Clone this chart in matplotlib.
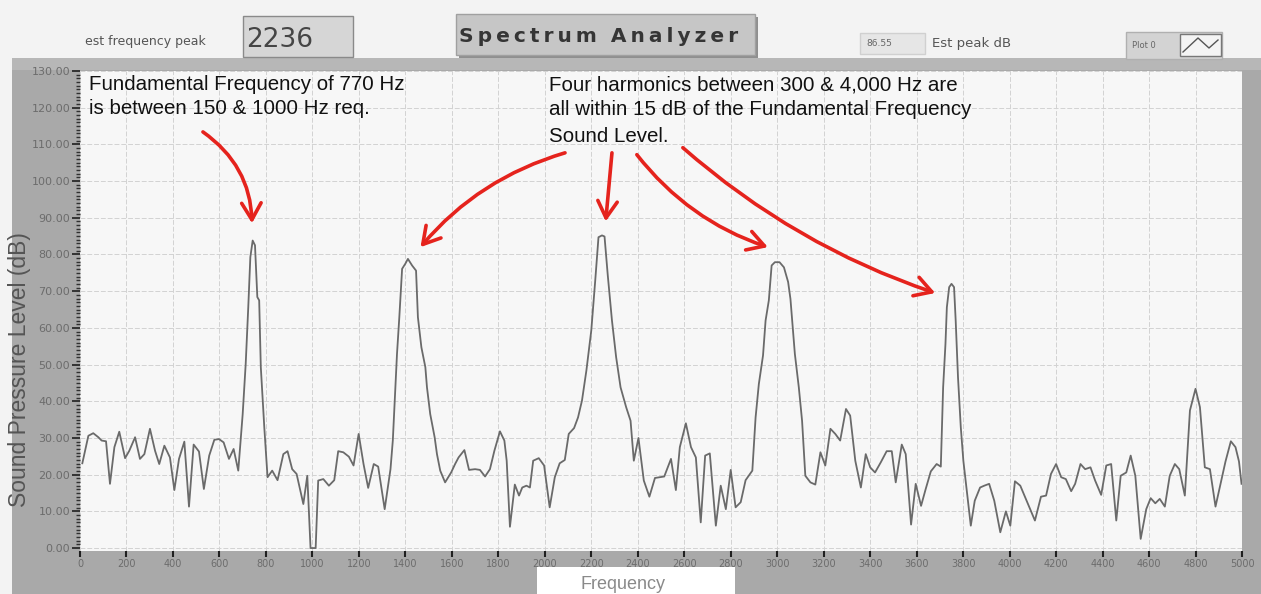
import matplotlib
matplotlib.use("Agg")
import matplotlib.pyplot as plt
from matplotlib.lines import Line2D
from matplotlib.patches import Rectangle
from matplotlib.ticker import FormatStrFormatter, MultipleLocator

# spectrum (Hz, dB)
freq_hz = [
    10, 36, 57, 79, 93, 112, 129, 148, 169, 194, 212, 237, 258, 277, 301, 323,
    341, 363, 387, 406, 426, 449, 469, 489, 512, 533, 556, 578, 598, 618, 641,
    661, 681, 700, 713, 724, 733, 743, 753, 763, 771, 778, 793, 807, 827, 850,
    875, 893, 913, 932, 961, 978, 992, 1014, 1025, 1047, 1071, 1094, 1111, 1133,
    1157, 1177, 1199, 1220, 1240, 1264, 1283, 1311, 1336, 1346, 1364, 1374,
    1386, 1400, 1411, 1429, 1446, 1454, 1469, 1486, 1493, 1507, 1526, 1536,
    1550, 1571, 1597, 1614, 1629, 1654, 1674, 1700, 1721, 1743, 1764, 1783,
    1807, 1826, 1836, 1850, 1871, 1889, 1903, 1921, 1936, 1950, 1974, 1997,
    2021, 2043, 2064, 2086, 2103, 2126, 2143, 2160, 2179, 2200, 2217, 2231,
    2246, 2257, 2271, 2289, 2307, 2326, 2350, 2369, 2383, 2403, 2426, 2450,
    2474, 2514, 2529, 2543, 2564, 2581, 2607, 2629, 2650, 2671, 2690, 2710,
    2736, 2757, 2779, 2800, 2821, 2843, 2864, 2893, 2907, 2921, 2939, 2950,
    2964, 2976, 2990, 3010, 3029, 3047, 3057, 3076, 3093, 3107, 3121, 3143,
    3164, 3186, 3207, 3229, 3250, 3271, 3296, 3314, 3336, 3360, 3381, 3400,
    3421, 3446, 3471, 3493, 3510, 3536, 3553, 3576, 3596, 3619, 3639, 3661,
    3686, 3704, 3714, 3724, 3730, 3740, 3750, 3761, 3768, 3778, 3790, 3801,
    3833, 3850, 3873, 3891, 3912, 3934, 3960, 3984, 4003, 4023, 4046, 4070,
    4109, 4135, 4157, 4178, 4200, 4222, 4242, 4265, 4282, 4305, 4325, 4348,
    4368, 4394, 4416, 4437, 4459, 4478, 4502, 4521, 4541, 4564, 4588, 4607,
    4627, 4646, 4668, 4689, 4711, 4730, 4754, 4776, 4800, 4819, 4840, 4862,
    4886, 4909, 4929, 4952, 4972, 4987, 4998,
]
level_db = [
    23.1, 30.6, 31.3, 30.2, 29.3, 29.1, 17.5, 27.5, 31.7, 24.5, 26.5, 30.2,
    24.3, 25.6, 32.5, 26.5, 22.9, 27.9, 24.7, 15.8, 24.3, 29.0, 11.3, 28.2,
    26.3, 16.1, 25.2, 29.5, 29.7, 28.8, 24.3, 27.0, 21.1, 36.5, 50.2, 65.6,
    79.3, 83.8, 82.5, 68.4, 67.5, 49.3, 32.9, 19.3, 21.1, 18.5, 25.6, 26.4,
    21.5, 20.2, 12.0, 19.7, 0.0, 0.0, 18.4, 18.8, 17.0, 18.5, 26.4, 26.1,
    24.9, 22.5, 31.1, 22.9, 16.4, 22.9, 22.2, 10.6, 21.5, 29.3, 52.9, 62.9,
    76.1, 77.5, 78.8, 77.0, 75.6, 62.9, 54.7, 49.3, 43.8, 36.5, 30.2, 25.6,
    21.1, 17.9, 20.6, 22.9, 24.7, 26.7, 21.3, 21.5, 21.3, 19.5, 21.5, 26.5,
    31.8, 29.3, 23.8, 5.8, 17.3, 14.3, 16.5, 17.0, 16.5, 23.8, 24.5, 22.5,
    11.1, 19.3, 23.1, 24.0, 31.1, 32.7, 35.6, 40.2, 48.4, 59.3, 72.9, 84.7,
    85.2, 84.9, 74.3, 62.0, 52.0, 43.8, 38.4, 34.7, 23.8, 30.0, 18.4, 14.0,
    19.1, 19.5, 22.0, 24.3, 15.8, 27.5, 34.0, 27.5, 24.7, 7.0, 25.2, 25.8,
    6.1, 17.0, 10.6, 21.3, 11.1, 12.5, 18.5, 21.1, 35.6, 44.7, 52.5, 62.0,
    67.5, 77.0, 77.9, 77.9, 76.5, 72.5, 67.9, 52.9, 43.8, 34.7, 19.7, 17.9,
    17.3, 26.1, 22.5, 32.5, 31.1, 29.3, 37.9, 36.1, 23.8, 16.5, 25.6, 22.0,
    20.6, 23.4, 26.4, 26.4, 17.9, 28.2, 25.6, 6.4, 17.5, 11.5, 16.1, 20.9,
    22.9, 22.2, 43.8, 55.6, 65.6, 71.1, 72.0, 71.1, 62.0, 46.5, 32.9, 23.8,
    6.1, 12.9, 16.5, 17.0, 17.5, 12.9, 4.3, 10.0, 6.1, 18.2, 17.0, 13.4,
    7.5, 14.0, 14.3, 20.2, 22.9, 19.3, 18.8, 15.5, 17.5, 22.9, 21.5, 22.0,
    18.4, 14.5, 22.5, 22.9, 7.5, 19.7, 20.6, 25.2, 19.7, 2.5, 10.6, 13.6,
    12.2, 13.4, 11.3, 19.7, 22.9, 21.5, 14.3, 37.5, 43.4, 38.4, 22.0, 21.5,
    11.3, 17.9, 23.6, 29.1, 27.5, 23.6, 17.5,
]

# red hand-drawn arrows: (start Hz, start dB) -> (end Hz, end dB), bend
arrows = [
    ((529, 113.4), (740, 88.5), -0.25),
    ((2087, 107.7), (1465, 82.0), 0.15),
    ((2289, 107.7), (2262, 89.0), 0.0),
    ((2396, 107.2), (2960, 82.0), 0.15),
    ((2594, 109.1), (3680, 69.5), 0.1),
]

W, H = 1261, 594
plt.rcParams["font.family"] = ["DejaVu Sans"]
fig = plt.figure(figsize=(W / 100, H / 100), dpi=100)
fig.patch.set_facecolor("#f3f3f3")


def fx(x):
    return x / W


def fy(y):
    return 1 - y / H


def box(x0, y0, x1, y1, fc, ec="#8a8a8a", lw=1.0, z=1):
    fig.add_artist(Rectangle((fx(x0), fy(y1)), fx(x1 - x0), (y1 - y0) / H,
                             transform=fig.transFigure, facecolor=fc,
                             edgecolor=ec, linewidth=lw, zorder=z))


# grey frame around the plot
box(12, 58, 1270, 600, "#a9a9a9", ec="none", z=0)
box(12, 58, 1270, 70, "#b7b7b7", ec="none", z=0)

# header widgets
fig.text(fx(85), fy(42), "est frequency peak", fontsize=9, color="#555555",
         va="center")
box(243, 16, 353, 57, "#d6d6d6")
fig.text(fx(246), fy(40), "2236", fontsize=19, color="#454545", va="center")
box(459, 17, 758, 58, "#8f8f8f", ec="none")
box(456, 14, 755, 55, "#c6c6c6", ec="#a0a0a0")
fig.text(fx(599), fy(37), "\u2009".join("Spectrum") + "  " + "\u2009".join("Analyzer"),
         fontsize=14.5, fontweight="bold", color="#353535",
         ha="center", va="center")
box(860, 33, 925, 54, "#e6e6e6", ec="#d0d0d0")
fig.text(fx(866), fy(44), "86.55", fontsize=6.5, color="#666666", va="center")
fig.text(fx(932), fy(44), "Est peak dB", fontsize=9.5, color="#555555",
         va="center")
box(1126, 32, 1222, 59, "#d3d3d3", ec="#b0b0b0")
fig.text(fx(1132), fy(46), "Plot 0", fontsize=6, color="#666666", va="center")
box(1180, 34, 1221, 56, "#f4f4f4", ec="#777777")
icon_x = [1183, 1198, 1209, 1218]
icon_y = [52, 38, 48, 40]
fig.add_artist(Line2D([fx(v) for v in icon_x], [fy(v) for v in icon_y],
                      transform=fig.transFigure, color="#555555", lw=1.0))

# main plot
ax = fig.add_axes([fx(80), fy(551), fx(1242 - 80), (551 - 71) / H])
ax.set_facecolor("#f7f7f7")
ax.plot(freq_hz, level_db, color="#6a6a6a", linewidth=1.3, zorder=3)
ax.set_xlim(0, 5000)
ax.set_ylim(-0.8, 130)
ax.xaxis.set_major_locator(MultipleLocator(200))
ax.yaxis.set_major_locator(MultipleLocator(10))
ax.yaxis.set_minor_locator(MultipleLocator(1))
ax.yaxis.set_major_formatter(FormatStrFormatter("%.2f"))
ax.tick_params(axis="x", direction="out", length=4, width=1.5, color="#202020",
               labelsize=7, labelcolor="#6c6c6c", pad=1.5)
ax.tick_params(axis="y", which="major", direction="out", length=6, width=1.2,
               color="#202020", labelsize=8, labelcolor="#6c6c6c", pad=1)
ax.tick_params(axis="y", which="minor", direction="out", length=3, width=1.0,
               color="#303030")
for s in ax.spines.values():
    s.set_visible(False)
ax.grid(True, which="major", color="#d2d2d2", linestyle=(0, (5, 2)),
        linewidth=0.7, zorder=1)
ax.set_axisbelow(True)

ax.set_ylabel("Sound Pressure Level (dB)", family=["Liberation Sans"],
              fontsize=16.5, color="#555555")
ax.yaxis.set_label_coords(-0.042, 0.377)

# annotations
for start, end, rad in arrows:
    ax.annotate("", xy=end, xytext=start, annotation_clip=False,
                arrowprops=dict(arrowstyle="->,head_length=0.6,head_width=0.35",
                                color="#e5231d", lw=2.6, mutation_scale=20,
                                shrinkA=0, shrinkB=0,
                                connectionstyle=f"arc3,rad={rad}"))

note_font = dict(family=["Liberation Sans"], fontsize=14.8, color="#111111",
                 va="center")
fig.text(fx(89), fy(84), "Fundamental Frequency of 770 Hz", **note_font)
fig.text(fx(89), fy(109), "is between 150 & 1000 Hz req.", **note_font)
fig.text(fx(549), fy(85), "Four harmonics between 300 & 4,000 Hz are",
         **note_font)
fig.text(fx(549), fy(110), "all within 15 dB of the Fundamental Frequency",
         **note_font)
fig.text(fx(549), fy(136), "Sound Level.", **note_font)

# scanned bottom: white patch and axis title
box(537, 567, 735, 600, "#ffffff", ec="none", z=2)
fig.text(fx(623), fy(593), "Frequency", family=["Liberation Sans"],
         fontsize=13, color="#8a8a8a", ha="center", va="bottom", zorder=3)

fig.savefig("out.png", dpi=100)
